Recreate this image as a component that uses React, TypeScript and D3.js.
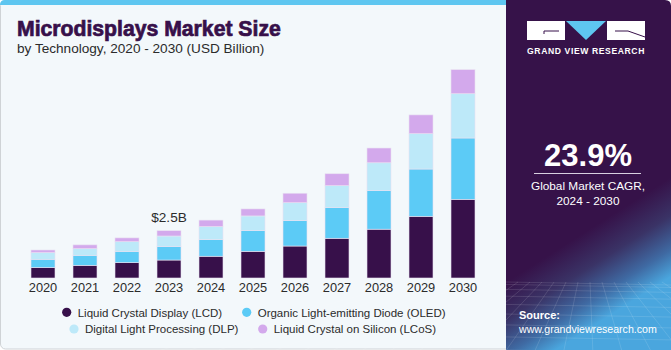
import React, { useEffect, useRef } from 'react';
import * as d3 from 'd3';

// chart values (USD Billion)
const years = ['2020', '2021', '2022', '2023', '2024', '2025', '2026', '2027', '2028', '2029', '2030'];
const lcd = [0.55, 0.67, 0.81, 0.95, 1.15, 1.41, 1.69, 2.1, 2.58, 3.26, 4.16];
const oled = [0.44, 0.53, 0.6, 0.72, 0.88, 1.09, 1.34, 1.62, 2.04, 2.5, 3.24];
const dlp = [0.35, 0.35, 0.51, 0.55, 0.69, 0.78, 0.95, 1.16, 1.47, 1.87, 2.34];
const lcos = [0.14, 0.2, 0.2, 0.28, 0.34, 0.37, 0.5, 0.63, 0.78, 0.99, 1.27];
const seriesNames = [
  'Liquid Crystal Display (LCD)',
  'Organic Light-emitting Diode (OLED)',
  'Digital Light Processing (DLP)',
  'Liquid Crystal on Silicon (LCoS)',
];
const seriesColors = ['#37104a', '#5ccbf6', '#bde9f9', '#d3a9ec'];
const calloutYear = '2023';
const calloutLabel = '$2.5B';
const cagr = '23.9%';

const W = 671;
const H = 350;
const FONT = '"Liberation Sans", Arial, sans-serif';

export default function App() {
  const ref = useRef<SVGSVGElement>(null);

  useEffect(() => {
    drawChart();
  }, []);

  function drawChart() {
    const svg = d3.select(ref.current);
    svg.selectAll('*').remove();

    const defs = svg.append('defs');
    const grad = defs.append('linearGradient')
      .attr('id', 'panelGrad')
      .attr('x1', 0).attr('y1', 0).attr('x2', 0.3).attr('y2', 1);
    grad.append('stop').attr('offset', '0%').attr('stop-color', '#361249');
    grad.append('stop').attr('offset', '74%').attr('stop-color', '#361249');
    grad.append('stop').attr('offset', '84%').attr('stop-color', '#3a3366');
    grad.append('stop').attr('offset', '93%').attr('stop-color', '#3f6aa3');
    grad.append('stop').attr('offset', '100%').attr('stop-color', '#4aa6de');

    // light chart panel
    svg.append('rect')
      .attr('x', 0.5).attr('y', 0.5).attr('width', 512).attr('height', H - 1.5)
      .attr('rx', 5)
      .attr('fill', '#f3f8fb')
      .attr('stroke', '#cfd3d6');
    svg.append('path')
      .attr('d', 'M0,5 Q0,0 5,0 L512,0 L512,5 Z')
      .attr('fill', '#5ec6f0');

    // dark side panel
    svg.append('path')
      .attr('d', `M506,0 L${W - 6},0 Q${W},0 ${W},6 L${W},${H} L506,${H} Z`)
      .attr('fill', 'url(#panelGrad)');

    // perspective grid at the bottom of the side panel
    const grid = svg.append('g').attr('stroke', '#ffffff').attr('stroke-opacity', 0.12).attr('fill', 'none');
    d3.range(0, 9).forEach(i => {
      const t = i / 8;
      const yy = 282 + Math.pow(t, 1.6) * 68;
      grid.append('line').attr('x1', 506).attr('x2', W).attr('y1', yy).attr('y2', yy + 3);
    });
    d3.range(-8, 20).forEach(i => {
      const xTop = 506 + i * 12;
      grid.append('line').attr('x1', xTop).attr('y1', 282)
        .attr('x2', 588 + (xTop - 588) * 2.4).attr('y2', H);
    });

    // scales
    const x = d3.scaleBand<string>()
      .domain(years)
      .range([22, 484])
      .paddingInner(18 / 42)
      .paddingOuter(9 / 42);
    const y = d3.scaleLinear().domain([0, 12]).range([278, 278 - 12 * 18.92]);

    const table = years.map((yr, i) => ({ year: yr, lcd: lcd[i], oled: oled[i], dlp: dlp[i], lcos: lcos[i] }));
    const keys = ['lcd', 'oled', 'dlp', 'lcos'];
    const stacked = d3.stack<any>().keys(keys)(table);

    svg.append('g')
      .selectAll('g')
      .data(stacked)
      .enter()
      .append('g')
      .attr('fill', (d, i) => seriesColors[i])
      .selectAll('rect')
      .data(d => d)
      .enter()
      .append('rect')
      .attr('x', d => x(d.data.year)!)
      .attr('width', x.bandwidth())
      .attr('y', d => y(d[1]))
      .attr('height', d => y(d[0]) - y(d[1]))
      .attr('stroke', '#e9e2f2')
      .attr('stroke-width', 0.6);

    // year labels
    svg.append('g')
      .selectAll('text')
      .data(years)
      .enter()
      .append('text')
      .attr('x', d => x(d)! + x.bandwidth() / 2)
      .attr('y', 292)
      .attr('text-anchor', 'middle')
      .style('font-family', FONT)
      .style('font-size', '12.8px')
      .attr('fill', '#2b2b2b')
      .text(d => d);

    // callout
    const ci = years.indexOf(calloutYear);
    const ctotal = lcd[ci] + oled[ci] + dlp[ci] + lcos[ci];
    svg.append('text')
      .attr('x', x(calloutYear)! + x.bandwidth() / 2)
      .attr('y', y(ctotal) - 9)
      .attr('text-anchor', 'middle')
      .style('font-family', FONT)
      .style('font-size', '13.6px')
      .attr('fill', '#2b2b2b')
      .text(calloutLabel);

    // title
    svg.append('text')
      .attr('x', 17).attr('y', 36)
      .style('font-family', FONT)
      .style('font-size', '21.2px')
      .style('font-weight', 'bold')
      .attr('fill', '#37104a')
      .attr('stroke', '#37104a')
      .attr('stroke-width', 0.7)
      .text('Microdisplays Market Size');
    svg.append('text')
      .attr('x', 17).attr('y', 53)
      .style('font-family', FONT)
      .style('font-size', '13.6px')
      .attr('fill', '#2b2b2b')
      .text('by Technology, 2020 - 2030 (USD Billion)');

    // legend
    const legendPos = [
      { cx: 66.7, cy: 312.3 },
      { cx: 246.7, cy: 312.3 },
      { cx: 74, cy: 329 },
      { cx: 262.7, cy: 329 },
    ];
    const lg = svg.append('g')
      .selectAll('g')
      .data(seriesNames)
      .enter()
      .append('g')
      .attr('transform', (d, i) => `translate(${legendPos[i].cx},${legendPos[i].cy})`);
    lg.append('circle').attr('r', 4.6).attr('fill', (d, i) => seriesColors[i]);
    lg.append('text')
      .attr('x', 11).attr('y', 4.2)
      .style('font-family', FONT)
      .style('font-size', '11.5px')
      .attr('fill', '#2b2b2b')
      .text(d => d);

    // logo
    const logo = svg.append('g');
    logo.append('rect').attr('x', 527).attr('y', 21).attr('width', 38).attr('height', 19).attr('fill', '#ffffff');
    logo.append('path').attr('d', 'M544,34 L544,31 L559,31').attr('stroke', '#37104a').attr('stroke-width', 1).attr('fill', 'none');
    logo.append('path').attr('d', 'M566,21 L606,21 L586,40 Z').attr('fill', '#5ec6f0');
    logo.append('rect').attr('x', 607).attr('y', 21).attr('width', 38).attr('height', 19).attr('fill', '#ffffff');
    logo.append('path').attr('d', 'M615,31 L628,31 L645,37').attr('stroke', '#37104a').attr('stroke-width', 1).attr('fill', 'none');
    logo.append('text')
      .attr('x', 586).attr('y', 54)
      .attr('text-anchor', 'middle')
      .style('font-family', FONT)
      .style('font-size', '8.6px')
      .style('font-weight', 'bold')
      .style('letter-spacing', '0.6px')
      .attr('fill', '#ffffff')
      .text('GRAND VIEW RESEARCH');

    // CAGR block
    svg.append('text')
      .attr('x', 588).attr('y', 166)
      .attr('text-anchor', 'middle')
      .style('font-family', FONT)
      .style('font-size', '31px')
      .style('font-weight', 'bold')
      .attr('fill', '#ffffff')
      .text(cagr);
    svg.append('line')
      .attr('x1', 534).attr('x2', 641).attr('y1', 173.5).attr('y2', 173.5)
      .attr('stroke', '#d8d0e0').attr('stroke-width', 1);
    svg.append('text')
      .attr('x', 588).attr('y', 190)
      .attr('text-anchor', 'middle')
      .style('font-family', FONT)
      .style('font-size', '11.8px')
      .attr('fill', '#ffffff')
      .text('Global Market CAGR,');
    svg.append('text')
      .attr('x', 588).attr('y', 205)
      .attr('text-anchor', 'middle')
      .style('font-family', FONT)
      .style('font-size', '11.8px')
      .attr('fill', '#ffffff')
      .text('2024 - 2030');

    // source
    svg.append('text')
      .attr('x', 519).attr('y', 319)
      .style('font-family', FONT)
      .style('font-size', '11px')
      .style('font-weight', 'bold')
      .attr('fill', '#ffffff')
      .text('Source:');
    svg.append('text')
      .attr('x', 519).attr('y', 333)
      .style('font-family', FONT)
      .style('font-size', '10.6px')
      .attr('fill', '#ffffff')
      .text('www.grandviewresearch.com');
  }

  return (
    <svg
      ref={ref}
      width={W}
      height={H}
      style={{ position: 'absolute', left: 0, top: 0, background: '#ffffff' }}
    />
  );
}
